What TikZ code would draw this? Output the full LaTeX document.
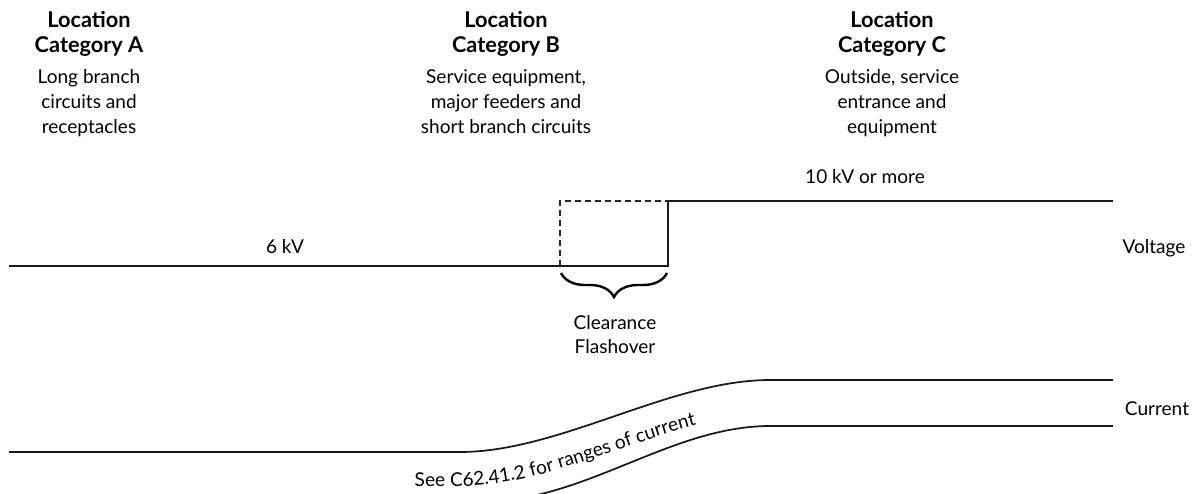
\documentclass[tikz,border=0pt]{standalone}
\usepackage{fontspec}
\setmainfont{Lato}
\usetikzlibrary{decorations.pathreplacing,decorations.text}
\begin{document}
\begin{tikzpicture}[x=0.75pt,y=-0.75pt,
  hd/.style={font=\bfseries\fontsize{16.3}{18}\selectfont, inner sep=0pt, anchor=base},
  tx/.style={font=\fontsize{14.3}{18}\selectfont, inner sep=0pt, anchor=base},
  ln/.style={line width=1.3pt, draw=black!90},
  dsh/.style={line width=1pt, draw=black!85, dash pattern=on 4.5pt off 3pt},
  brc/.style={line width=1.8pt, decorate, decoration={brace, amplitude=18pt, aspect=0.5}},
]
\useasboundingbox (0,0) rectangle (1200,493);

% Column A
\node[hd] (aL) at (89,27) {Location};
\node[hd] (aC) at (89,52) {Category A};
\node[tx] (a1) at (89,83) {Long branch};
\node[tx] (a2) at (89,108) {circuits and};
\node[tx] (a3) at (89,133) {receptacles};
% Column B
\node[hd] (bL) at (506,27) {Location};
\node[hd] (bC) at (506,52) {Category B};
\node[tx] (b1) at (506,83) {Service equipment,};
\node[tx] (b2) at (506,108) {major feeders and};
\node[tx] (b3) at (506,133) {short branch circuits};
% Column C
\node[hd] (cL) at (892,27) {Location};
\node[hd] (cC) at (892,52) {Category C};
\node[tx] (c1) at (892,83) {Outside, service};
\node[tx] (c2) at (892,108) {entrance and};
\node[tx] (c3) at (892,133) {equipment};

% Voltage
\coordinate (v0) at (9,266);
\coordinate (v1) at (668,266);
\coordinate (v2) at (668,201);
\coordinate (v3) at (1113,201);
\coordinate (d0) at (560,266);
\coordinate (d1) at (560,201);
\draw[ln] (v0) -- (v1) -- (v2) -- (v3);
\draw[dsh] (d0) -- (d1) -- (v2);
\node[tx] (six) at (285,253) {6 kV};
\node[tx] (ten) at (865,183) {10 kV or more};
\node[tx] (volt) at (1154,253) {Voltage};

% Brace
\coordinate (bl) at (561,273);
\coordinate (br) at (667,273);
\draw[brc] (br) -- (bl);
\node[tx] (clr) at (615,329) {Clearance};
\node[tx] (fla) at (615,353) {Flashover};

% Current
\coordinate (i0) at (9,452);
\coordinate (i1) at (460,452);
\coordinate (i2) at (770,380);
\coordinate (i3) at (1113,380);
\draw[ln] (i0) -- (i1) .. controls (560,452) and (670,380) .. (i2) -- (i3);
\begin{scope}
\clip (0,0) rectangle (1200,493);
\coordinate (j1) at (480,502);
\coordinate (j2) at (770,426);
\coordinate (j3) at (1113,426);
\draw[ln] (j1) .. controls (585,502) and (670,426) .. (j2) -- (j3);
\end{scope}
\node[tx] (cur) at (1157,415) {Current};

\coordinate (t0) at (380,486);
\coordinate (t1) at (460,486);
\coordinate (t2) at (775,414);
\path[decorate, decoration={text along path, text align={left indent=26pt},
  text={|\fontsize{14.3}{18}\selectfont|See C62.41.2 for ranges of current}}]
  (t0) -- (t1) .. controls (565,486) and (670,414) .. (t2);
\end{tikzpicture}
\end{document}
